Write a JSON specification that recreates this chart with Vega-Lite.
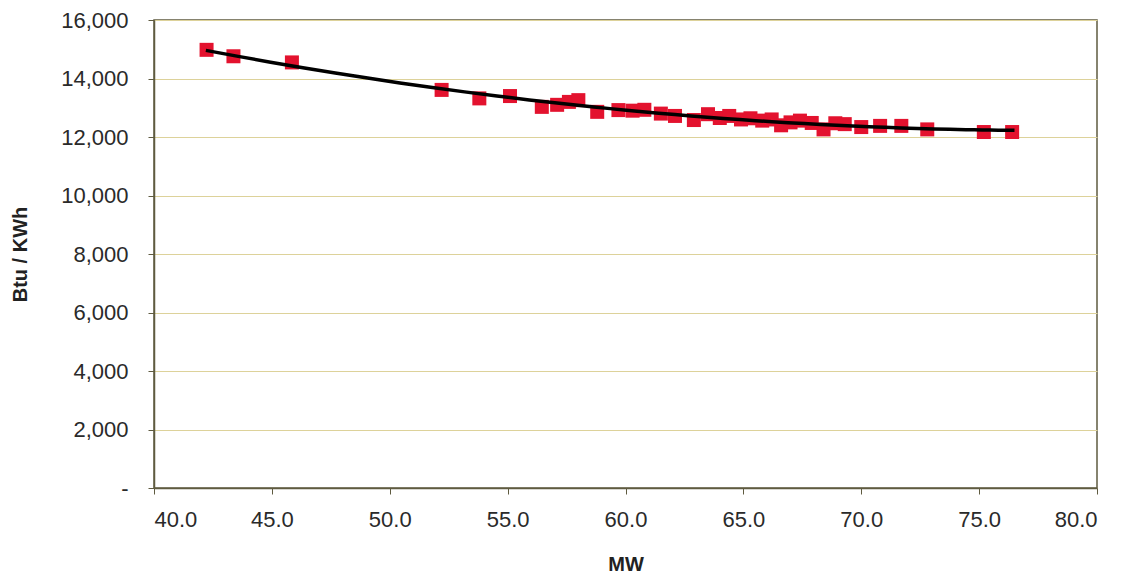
{
  "$schema": "https://vega.github.io/schema/vega-lite/v6.json",
  "autosize": {"type": "none"},
  "padding": {"left": 154, "top": 20, "right": 29, "bottom": 92},
  "width": 943,
  "height": 468,
  "background": "white",
  "config": {
    "view": {"stroke": "#5f5b40", "strokeWidth": 1.5},
    "font": "Liberation Sans"
  },
  "data": {
    "values": [
      {"MW": 42.23, "Btu": 14980},
      {"MW": 43.37, "Btu": 14760},
      {"MW": 45.85, "Btu": 14550},
      {"MW": 52.2, "Btu": 13610},
      {"MW": 53.8, "Btu": 13320},
      {"MW": 55.1, "Btu": 13400},
      {"MW": 56.45, "Btu": 13030},
      {"MW": 57.1, "Btu": 13100},
      {"MW": 57.6, "Btu": 13200},
      {"MW": 58.0, "Btu": 13260},
      {"MW": 58.8, "Btu": 12860},
      {"MW": 59.7, "Btu": 12920},
      {"MW": 60.3, "Btu": 12900},
      {"MW": 60.8, "Btu": 12930},
      {"MW": 61.5, "Btu": 12800},
      {"MW": 62.1, "Btu": 12720},
      {"MW": 62.9, "Btu": 12580},
      {"MW": 63.5, "Btu": 12780},
      {"MW": 64.0, "Btu": 12650},
      {"MW": 64.4, "Btu": 12720},
      {"MW": 64.9, "Btu": 12600},
      {"MW": 65.3, "Btu": 12640},
      {"MW": 65.8, "Btu": 12560},
      {"MW": 66.2, "Btu": 12600},
      {"MW": 66.6, "Btu": 12400},
      {"MW": 67.0, "Btu": 12500},
      {"MW": 67.4, "Btu": 12560},
      {"MW": 67.9, "Btu": 12480},
      {"MW": 68.4, "Btu": 12260},
      {"MW": 68.9, "Btu": 12470},
      {"MW": 69.3, "Btu": 12440},
      {"MW": 70.0, "Btu": 12340},
      {"MW": 70.8, "Btu": 12380},
      {"MW": 71.7, "Btu": 12380},
      {"MW": 72.8, "Btu": 12260},
      {"MW": 75.2, "Btu": 12170},
      {"MW": 76.4, "Btu": 12170}
    ]
  },
  "encoding": {
    "x": {
      "field": "MW", "type": "quantitative",
      "scale": {"domain": [40, 80], "nice": false, "zero": false},
      "axis": {
        "title": "MW",
        "values": [40, 45, 50, 55, 60, 65, 70, 75, 80],
        "format": ".1f",
        "grid": false,
        "domainColor": "#5f5b40", "domainWidth": 1.5,
        "tickColor": "#5f5b40", "tickSize": 6,
        "labelFont": "Liberation Sans", "labelFontSize": 22, "labelColor": "#2a2a2a",
        "labelPadding": 15,
        "titleFont": "Liberation Sans", "titleFontSize": 20, "titleFontWeight": "bold", "titleColor": "#222",
        "titleY": 66
      }
    },
    "y": {
      "field": "Btu", "type": "quantitative",
      "scale": {"domain": [0, 16000], "nice": false},
      "axis": {
        "title": "Btu / KWh",
        "values": [0, 2000, 4000, 6000, 8000, 10000, 12000, 14000, 16000],
        "labelExpr": "datum.value == 0 ? '-' : format(datum.value, ',')",
        "grid": true, "gridColor": "#ddd29a", "gridWidth": 1,
        "domainColor": "#5f5b40", "domainWidth": 1.5,
        "tickColor": "#5f5b40", "tickSize": 6,
        "labelFont": "Liberation Sans", "labelFontSize": 22, "labelColor": "#2a2a2a",
        "labelPadding": 20,
        "titleFont": "Liberation Sans", "titleFontSize": 20, "titleFontWeight": "bold", "titleColor": "#222",
        "titleX": -124, "titleY": 234
      }
    }
  },
  "layer": [
    {
      "mark": {"type": "square", "filled": true, "size": 196, "color": "#e3122e", "opacity": 1}
    },
    {
      "transform": [
        {"regression": "Btu", "on": "MW", "method": "poly", "order": 2, "extent": [42.2, 76.5]}
      ],
      "mark": {"type": "line", "color": "#000000", "strokeWidth": 3.5}
    }
  ]
}
